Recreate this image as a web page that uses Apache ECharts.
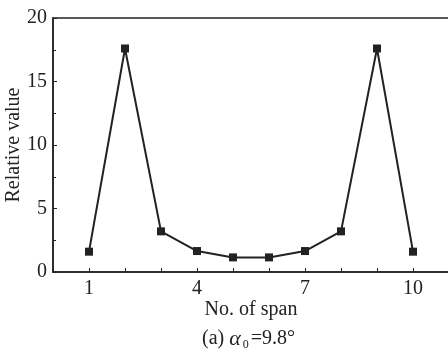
<!DOCTYPE html>
<html>
<head>
<meta charset="utf-8">
<script src="https://cdn.jsdelivr.net/npm/echarts@6/dist/echarts.min.js"></script>
<style>
  html, body { margin: 0; padding: 0; background: #fff; }
  #chart { width: 448px; height: 350px; }
</style>
</head>
<body>
<div id="chart"></div>
<script>
// Span numbers and relative values along the bridge
const spans = [1, 2, 3, 4, 5, 6, 7, 8, 9, 10];
const relativeValues = [1.6, 17.6, 3.2, 1.65, 1.15, 1.15, 1.65, 3.2, 17.6, 1.6];
const xTickLabels = [1, 4, 7, 10];
const yTickLabels = [0, 5, 10, 15, 20];

const ink = '#222';
const serif = '"Liberation Serif", "Times New Roman", serif';

const chart = echarts.init(document.getElementById('chart'));
chart.setOption({
  backgroundColor: '#fff',
  animation: false,
  grid: {
    left: 53, top: 18, width: 396, bottom: 78,
    outerBoundsMode: 'none', containLabel: false,
    show: true, borderColor: ink, borderWidth: 1.5, backgroundColor: 'transparent'
  },
  xAxis: {
    type: 'value', min: 0, max: 11, interval: 1,
    name: 'No. of span', nameLocation: 'middle', nameGap: 28, nameMoveOverlap: false,
    nameTextStyle: { fontFamily: serif, fontSize: 20, color: ink },
    axisLine: { show: true, lineStyle: { color: ink, width: 1.5 } },
    axisTick: { show: true, inside: true, length: 4, lineStyle: { color: ink, width: 1 } },
    axisLabel: {
      fontFamily: serif, fontSize: 20, color: ink, margin: 7,
      formatter: v => (xTickLabels.indexOf(v) >= 0 ? String(v) : '')
    },
    splitLine: { show: false }
  },
  yAxis: {
    type: 'value', min: 0, max: 20, interval: 5,
    name: 'Relative value', nameLocation: 'middle', nameGap: 29, nameRotate: 90, nameMoveOverlap: false,
    nameTextStyle: { fontFamily: serif, fontSize: 20, color: ink },
    axisLine: { show: true, lineStyle: { color: ink, width: 1.5 } },
    axisTick: { show: true, inside: true, length: 4, lineStyle: { color: ink, width: 1 } },
    minorTick: { show: true, splitNumber: 2, length: 3, lineStyle: { color: ink, width: 1 } },
    axisLabel: {
      fontFamily: serif, fontSize: 20, color: ink, margin: 6,
      formatter: v => (yTickLabels.indexOf(v) >= 0 ? String(v) : '')
    },
    splitLine: { show: false }
  },
  series: [{
    type: 'line',
    data: spans.map((s, i) => [s, relativeValues[i]]),
    symbol: 'rect', symbolSize: 8,
    lineStyle: { color: ink, width: 2 },
    itemStyle: { color: ink },
    z: 3
  }],
  graphic: [{
    type: 'text',
    left: 202,
    top: 328,
    style: {
      x: 0, y: 0,
      text: '{n|(a) }{a|α}{s|0}{n|=9.8°}',
      rich: {
        n: { fontFamily: serif, fontSize: 20, fill: ink },
        a: { fontFamily: serif, fontSize: 22, fontStyle: 'italic', fill: ink },
        s: { fontFamily: serif, fontSize: 12, fill: ink, padding: [12, 2, 0, 2] }
      }
    }
  }]
});
</script>
</body>
</html>
